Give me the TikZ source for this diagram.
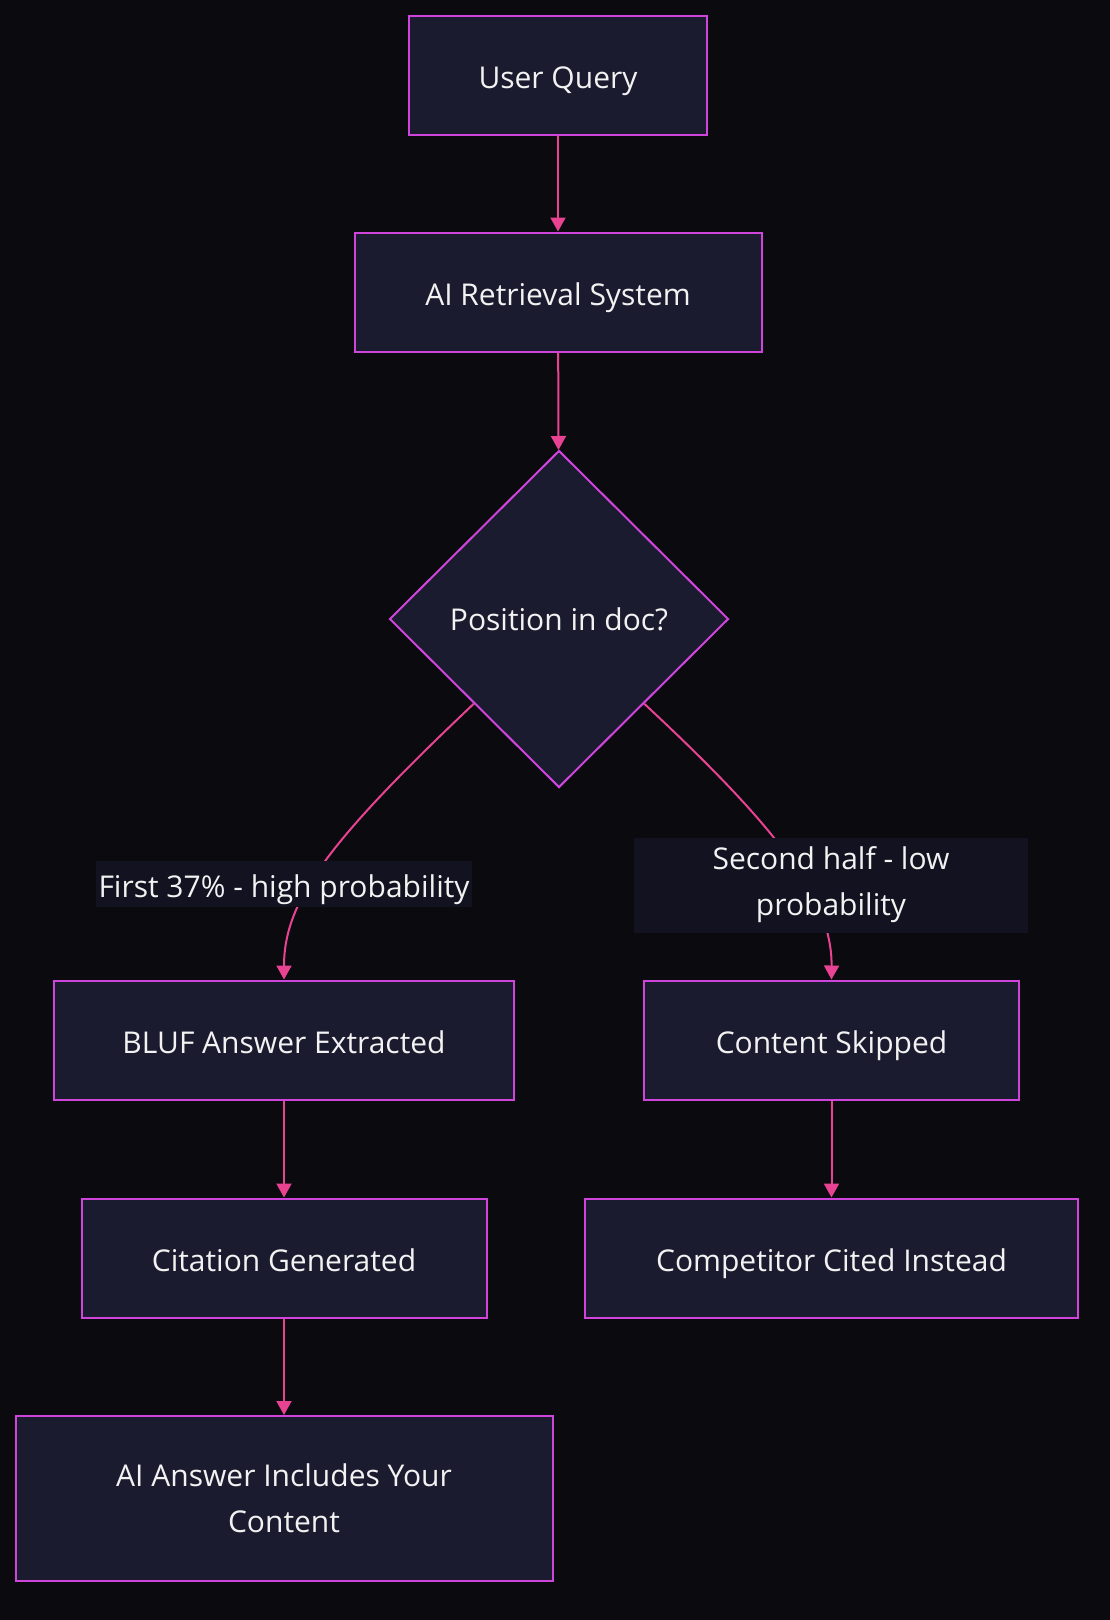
\documentclass[tikz,border=0pt]{standalone}
\usepackage{fontspec}
\setmainfont{Open Sans}
\usetikzlibrary{positioning}
\usetikzlibrary{shapes.geometric,arrows.meta}
\definecolor{bgdark}{HTML}{0A0A0F}
\definecolor{boxfill}{HTML}{1B1B2F}
\definecolor{boxline}{HTML}{CF45DC}
\definecolor{edgepink}{HTML}{E84393}
\definecolor{lblfill}{HTML}{121220}
\definecolor{txt}{HTML}{F2F2F2}

\begin{document}
\begin{tikzpicture}[x=1pt, y=-1pt,
    box/.style = {draw=boxline, fill=boxfill, line width=2pt, minimum height=119pt,
                  text=txt, font=\fontsize{30}{46}\selectfont, align=center},
    oneline/.style = {text height=29pt, text depth=2pt},
    decide/.style = {diamond, draw=boxline, fill=boxfill, line width=2pt, aspect=1,
                  minimum width=339pt, minimum height=337pt, inner sep=0pt,
                  text=txt, font=\fontsize{30}{46}\selectfont},
    lbl/.style = {fill=lblfill, text=txt, font=\fontsize{30}{46}\selectfont, align=center, inner sep=0pt},
    edge/.style = {draw=edgepink, line width=2pt, -{Triangle[length=14pt,width=15pt]}}]
          \useasboundingbox[fill=bgdark] (0,0) rectangle (1110,1620);
          \node[box, oneline, minimum width=298pt](query) at (558,75) {User Query};
          \node[box, oneline, minimum width=407pt](retrieval) at (558,292) {AI Retrieval System};
          \node[decide](pos) at (559,619) {Position in doc?};
          \node[box, oneline, minimum width=460pt](bluf) at (284,1040) {BLUF Answer Extracted};
          \node[box, oneline, minimum width=375pt](skip) at (831.5,1040) {Content Skipped};
          \node[box, oneline, minimum width=405pt](cite) at (284,1258) {Citation Generated};
          \node[box, oneline, minimum width=493pt](rival) at (831.5,1258) {Competitor Cited Instead};
          \node[box, minimum width=537pt, minimum height=165pt](answer) at (284,1498.5) {AI Answer Includes Your\\Content};
          \draw[edge] (query) -- (retrieval);
          \draw[edge] (retrieval) -- (pos);
          \draw[edge] (pos.south west) .. controls (330,840) and (284,900) .. (bluf.north);
          \draw[edge] (pos.south east) .. controls (780,830) and (832,900) .. (skip.north);
          \draw[edge] (bluf) -- (cite);
          \draw[edge] (cite) -- (answer);
          \draw[edge] (skip) -- (rival);
          \node[lbl, oneline, minimum width=376pt, minimum height=46pt](high) at (284,884) {First 37\% - high probability};
          \node[lbl, minimum width=394pt, minimum height=95pt](low) at (831,885) {Second half - low\\probability};
        \end{tikzpicture}
\end{document}
